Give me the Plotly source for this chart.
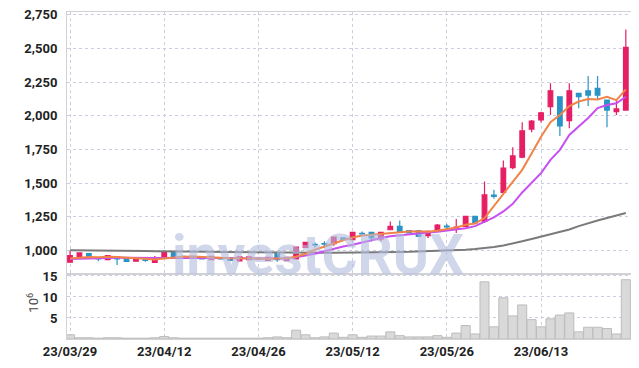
import plotly.graph_objects as go

dates = ["23/03/29","23/03/30","23/03/31","23/04/03","23/04/04","23/04/05","23/04/06","23/04/07",
         "23/04/10","23/04/11","23/04/12","23/04/13","23/04/14","23/04/17","23/04/18","23/04/19",
         "23/04/20","23/04/21","23/04/24","23/04/25","23/04/26","23/04/27","23/04/28","23/05/02",
         "23/05/03","23/05/04","23/05/08","23/05/09","23/05/10","23/05/11","23/05/12","23/05/15",
         "23/05/16","23/05/17","23/05/18","23/05/19","23/05/22","23/05/23","23/05/24","23/05/25",
         "23/05/26","23/05/30","23/05/31","23/06/01","23/06/02","23/06/05","23/06/07","23/06/08",
         "23/06/09","23/06/12","23/06/13","23/06/14","23/06/15","23/06/16","23/06/19","23/06/20",
         "23/06/21","23/06/22","23/06/23","23/06/26"]

open_p = [912, 956, 976, 944, 931, 951, 938, 919, 937, 911,
          951, 985, 955, 941, 951, 931, 946, 944, 922, 931,
          935, 926, 976, 924, 936, 1022, 1045, 1050, 1050, 1092,
          1079, 1126, 1133, 1085, 1153, 1178, 1146, 1146, 1109, 1146,
          1181, 1163, 1178, 1252, 1215, 1410, 1431, 1615, 1692, 1901,
          1968, 2067, 2140, 1963, 2166, 2185, 2203, 2116, 2030, 2042]
high_p = [995, 985, 978, 950, 965, 955, 940, 940, 940, 958,
          988, 988, 960, 960, 955, 958, 950, 948, 953, 955,
          948, 950, 980, 950, 1028, 1062, 1059, 1067, 1102, 1095,
          1136, 1140, 1136, 1136, 1215, 1222, 1150, 1150, 1148, 1195,
          1195, 1233, 1255, 1255, 1511, 1450, 1667, 1766, 1951, 1968,
          2030, 2240, 2145, 2240, 2170, 2294, 2294, 2120, 2116, 2640]
low_p = [910, 954, 948, 919, 928, 892, 915, 916, 916, 908,
         948, 953, 940, 938, 932, 928, 932, 922, 918, 928,
         930, 922, 915, 920, 932, 1018, 1022, 1018, 1035, 1075,
         1075, 1105, 1065, 1067, 1150, 1138, 1126, 1100, 1092, 1143,
         1160, 1129, 1175, 1200, 1203, 1383, 1425, 1603, 1684, 1877,
         1950, 2005, 1850, 1906, 2055, 2072, 2121, 1914, 2005, 2040]
close_p = [961, 981, 951, 937, 961, 936, 918, 938, 926, 941,
           985, 956, 945, 956, 936, 956, 936, 926, 951, 951,
           945, 948, 931, 948, 1025, 1059, 1040, 1047, 1099, 1082,
           1133, 1122, 1092, 1133, 1178, 1141, 1129, 1104, 1141, 1188,
           1175, 1173, 1252, 1203, 1412, 1400, 1611, 1701, 1887, 1960,
           2022, 2185, 1924, 2185, 2141, 2153, 2153, 2042, 2050, 2507]

ma_short = [940, 945, 950, 948, 953, 950, 945, 938, 935, 932,
            940, 948, 952, 955, 950, 948, 945, 942, 940, 940,
            940, 938, 940, 942, 952, 975, 1005, 1030, 1055, 1075,
            1095, 1110, 1115, 1122, 1130, 1135, 1140, 1142, 1138, 1145,
            1158, 1170, 1190, 1200, 1240, 1330, 1420, 1510, 1598, 1720,
            1844, 1951, 2005, 2072, 2105, 2124, 2121, 2141, 2116, 2195]
ma_mid = [935, 938, 942, 944, 946, 946, 945, 944, 942, 942,
          944, 946, 946, 945, 944, 944, 943, 942, 941, 941,
          940, 939, 938, 940, 948, 960, 975, 993, 1012, 1028,
          1042, 1060, 1078, 1092, 1104, 1112, 1120, 1128, 1132, 1138,
          1146, 1152, 1165, 1180, 1210, 1245, 1289, 1345, 1430, 1500,
          1573, 1672, 1746, 1857, 1920, 1983, 2057, 2079, 2092, 2141]
ma_long = [1000, 1000, 999, 999, 998, 998, 997, 996, 995, 994,
           994, 993, 992, 991, 990, 989, 988, 987, 986, 985,
           984, 983, 982, 982, 982, 982, 982, 982, 983, 983,
           984, 984, 985, 986, 987, 988, 989, 991, 993, 995,
           998, 1001, 1005, 1010, 1016, 1025, 1036, 1050, 1067, 1085,
           1103, 1122, 1138, 1155, 1180, 1203, 1222, 1240, 1258, 1277]

volume_m = [1.0, 0.3, 0.3, 0.2, 0.3, 0.3, 0.2, 0.2, 0.2, 0.3,
            0.6, 0.3, 0.2, 0.2, 0.2, 0.2, 0.2, 0.2, 0.2, 0.2,
            0.2, 0.3, 0.5, 0.3, 2.1, 1.0, 0.3, 0.5, 1.4, 0.4,
            1.0, 0.4, 0.7, 0.7, 1.7, 0.8, 0.5, 0.5, 0.5, 0.8,
            0.4, 1.4, 3.2, 1.2, 13.6, 2.9, 9.8, 5.5, 8.1, 4.6,
            2.9, 4.8, 5.7, 6.2, 1.7, 2.8, 2.8, 2.5, 1.2, 14.1]

price_ticks = [1000, 1250, 1500, 1750, 2000, 2250, 2500, 2750]
volume_ticks = [5, 10, 15]
date_ticks = [dates[i] for i in range(0, 60, 10)]

UP = "#e61e64"
DOWN = "#2a93c8"
FONT = "Roboto, Liberation Sans, sans-serif"
GRID = "#c9cee0"
BORDER = "#d2d2d6"
TICKFONT = dict(family=FONT, size=13, color="#222", weight="bold")

fig = go.Figure()

fig.add_trace(go.Bar(
    x=dates, y=volume_m, xaxis="x", yaxis="y2",
    marker=dict(color="#d9d9d9", line=dict(color="#bdbdbd", width=1)),
    showlegend=False, hoverinfo="skip"))

fig.add_trace(go.Scatter(x=dates, y=ma_long, mode="lines",
                         line=dict(color="#7a7a7a", width=2), showlegend=False))
fig.add_trace(go.Scatter(x=dates, y=ma_mid, mode="lines",
                         line=dict(color="#c84ff0", width=2), showlegend=False))
fig.add_trace(go.Scatter(x=dates, y=ma_short, mode="lines",
                         line=dict(color="#f08448", width=2), showlegend=False))

fig.add_trace(go.Candlestick(
    x=dates, open=open_p, high=high_p, low=low_p, close=close_p,
    increasing=dict(line=dict(color=UP, width=1.2), fillcolor=UP),
    decreasing=dict(line=dict(color=DOWN, width=1.2), fillcolor=DOWN),
    showlegend=False))

fig.add_annotation(text="investCRUX", xref="paper", yref="paper",
                   x=0.445, y=0.153, xanchor="center", yanchor="bottom",
                   showarrow=False,
                   font=dict(family=FONT, size=55, color="rgba(178,188,222,0.6)", weight="bold"))

fig.add_annotation(text="10<sup>6</sup>", xref="paper", yref="paper",
                   x=-0.061, y=0.11, xanchor="center", yanchor="middle",
                   textangle=-90, showarrow=False,
                   font=dict(family=FONT, size=13, color="#444"))

fig.update_layout(
    template="none",
    width=631, height=360,
    margin=dict(l=59, r=8, t=4, b=29),
    paper_bgcolor="white", plot_bgcolor="white",
    bargap=0.04, boxgap=0.3,
    font=dict(family=FONT, size=13, color="#222"),
    xaxis=dict(type="category", anchor="y2", range=[-0.32, 59.55], automargin=False,
               tickvals=date_ticks, ticktext=date_ticks,
               showgrid=True, gridcolor=GRID, griddash="dot", gridwidth=1,
               showline=True, linecolor=BORDER, linewidth=1, mirror="all",
               ticks="", rangeslider=dict(visible=False), tickfont=TICKFONT),
    yaxis=dict(domain=[0.199, 1], range=[825, 2770], tickvals=price_ticks, automargin=False,
               tickformat=",", showgrid=True, gridcolor=GRID, griddash="dot",
               showline=True, linecolor=BORDER, mirror=True, zeroline=False,
               ticks="", ticklabelstandoff=6, ticklabeloverflow="allow", tickfont=TICKFONT),
    yaxis2=dict(domain=[0, 0.199], range=[0, 15.48], tickvals=volume_ticks, automargin=False,
                showgrid=True, gridcolor=GRID, griddash="dot",
                showline=True, linecolor=BORDER, mirror=True, zeroline=False,
                ticks="", ticklabelstandoff=6, ticklabeloverflow="allow", tickfont=TICKFONT),
)

fig.write_html("out.html")
